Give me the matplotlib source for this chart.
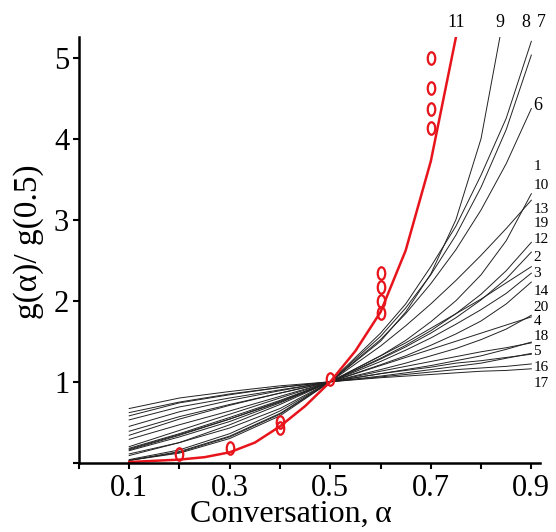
import matplotlib
matplotlib.use('Agg')
import matplotlib.pyplot as plt
from matplotlib.path import Path
from matplotlib.transforms import Affine2D

plt.rcParams['font.family'] = ['Liberation Serif', 'DejaVu Serif']

# conversion grid for the model curves (finer where they bend up)
alpha = [0.1, 0.2, 0.3, 0.4, 0.5, 0.6, 0.65, 0.7, 0.75, 0.8, 0.85, 0.9]

# g(a)/g(0.5), one list per black curve
p_quarter = [0.67, 0.80, 0.88, 0.95, 1, 1.05, 1.07, 1.09, 1.11, 1.13, 1.14, 1.16]
p_third = [0.58, 0.74, 0.84, 0.93, 1, 1.06, 1.09, 1.12, 1.15, 1.17, 1.19, 1.22]
p_half = [0.45, 0.63, 0.77, 0.89, 1, 1.10, 1.14, 1.18, 1.23, 1.26, 1.30, 1.34]
p_two_thirds = [0.34, 0.54, 0.71, 0.86, 1, 1.13, 1.19, 1.25, 1.31, 1.37, 1.42, 1.48]
p_one = [0.20, 0.40, 0.60, 0.80, 1, 1.20, 1.30, 1.40, 1.50, 1.60, 1.70, 1.80]
p_three_halves = [0.09, 0.25, 0.47, 0.72, 1, 1.32, 1.48, 1.66, 1.84, 2.02, 2.22, 2.42]
a4 = [0.62, 0.75, 0.85, 0.93, 1, 1.07, 1.11, 1.15, 1.19, 1.23, 1.29, 1.35]
a3 = [0.53, 0.69, 0.80, 0.90, 1, 1.10, 1.15, 1.20, 1.26, 1.32, 1.40, 1.49]
a2 = [0.39, 0.57, 0.72, 0.86, 1, 1.15, 1.23, 1.32, 1.41, 1.52, 1.65, 1.82]
a15 = [0.29, 0.47, 0.64, 0.82, 1, 1.21, 1.32, 1.45, 1.59, 1.75, 1.96, 2.23]
f1 = [0.15, 0.32, 0.51, 0.74, 1, 1.32, 1.51, 1.74, 2.00, 2.32, 2.74, 3.32]
r2 = [0.18, 0.36, 0.56, 0.77, 1, 1.25, 1.39, 1.54, 1.71, 1.89, 2.09, 2.34]
r3 = [0.17, 0.35, 0.54, 0.76, 1, 1.28, 1.43, 1.60, 1.79, 2.01, 2.27, 2.60]
r4 = [0.16, 0.34, 0.54, 0.75, 1, 1.29, 1.45, 1.63, 1.84, 2.08, 2.37, 2.72]
d1 = [0.04, 0.16, 0.36, 0.64, 1, 1.44, 1.69, 1.96, 2.25, 2.56, 2.89, 3.24]
d2 = [0.03, 0.14, 0.33, 0.61, 1, 1.52, 1.84, 2.21, 2.63, 3.12, 3.69, 4.37]
d4 = [0.03, 0.13, 0.32, 0.60, 1, 1.56, 1.91, 2.32, 2.81, 3.40, 4.11, 5.03]
d8 = [0.03, 0.12, 0.30, 0.58, 1, 1.60, 1.96, 2.42, 2.92, 3.55, 4.25, 5.20]

alpha_f2 = [0.1, 0.2, 0.3, 0.4, 0.5, 0.6, 0.65, 0.7, 0.75, 0.8, 0.85]
f2 = [0.11, 0.25, 0.43, 0.67, 1, 1.5, 1.86, 2.33, 3.0, 4.0, 5.67]

# red curve (11) and the experimental points
alpha_red = [0.1, 0.2, 0.25, 0.3, 0.35, 0.4, 0.45, 0.5, 0.55, 0.6, 0.65, 0.7, 0.75]
g_red = [0.01, 0.04, 0.07, 0.13, 0.25, 0.45, 0.70, 1.0, 1.38, 1.86, 2.62, 3.72, 5.25]
obs_alpha = [0.2, 0.3, 0.4, 0.4, 0.5, 0.6, 0.6, 0.6, 0.6, 0.7, 0.7, 0.7, 0.7]
obs_g = [0.11, 0.18, 0.50, 0.43, 1.03, 2.34, 2.17, 2.0, 1.85, 5.0, 4.62, 4.37, 4.13]

# curve numbers as printed round the plot
right_labels = ['1', '10', '13', '19', '12', '2', '3', '14', '20', '4', '18', '5', '16', '17']
right_label_y = [3.65, 3.42, 3.13, 2.95, 2.75, 2.53, 2.33, 2.11, 1.92, 1.74, 1.56, 1.37, 1.17, 0.98]
top_labels = ['11', '9', '8', '7', '6']
top_label_x = [0.751, 0.837, 0.890, 0.920, 0.912]
top_label_y = [5.43, 5.43, 5.43, 5.43, 4.41]

black = [p_quarter, p_third, p_half, p_two_thirds, p_one, p_three_halves,
         a4, a3, a2, a15, f1, r2, r3, r4, d1, d2, d4, d8]

fig = plt.figure(figsize=(5.56, 5.32), dpi=100)
ax = fig.add_axes([0.142, 0.13, 0.829, 0.80])

for g in black:
    ax.plot(alpha, g, color='#222222', lw=0.7)
ax.plot(alpha_f2, f2, color='#222222', lw=0.7)

ax.plot(alpha_red, g_red, color='#e8141c', lw=1.8)

ellipse = Path.unit_circle().transformed(Affine2D().scale(0.6, 1.0))
ax.plot(obs_alpha, obs_g, ls='none', marker=ellipse, ms=9, mfc='none',
        mec='#e8141c', mew=1.6, clip_on=False)

ax.set_xlim(0, 0.917)
ax.set_ylim(0, 5.25)
ax.set_xticks([0.0, 0.1, 0.2, 0.3, 0.4, 0.5, 0.6, 0.7, 0.8, 0.9])
ax.set_xticklabels(['', '0.1', '', '0.3', '', '0.5', '', '0.7', '', '0.9'])
ax.set_yticks([0, 1, 2, 3, 4, 5])
ax.set_yticklabels(['', '1', '2', '3', '4', '5'])
ax.tick_params(direction='out', length=4, width=1.5, labelsize=22, pad=3)
ax.tick_params(axis='x', pad=4)

for s in ['top', 'right']:
    ax.spines[s].set_visible(False)
for s in ['left', 'bottom']:
    ax.spines[s].set_linewidth(1.8)

ax.set_xlabel('Conversation,\u2009α', fontsize=23)
ax.xaxis.set_label_coords(0.459, -0.088)
ax.set_ylabel('g(α)/ g(0.5)', fontsize=24)
ax.yaxis.set_label_coords(-0.075, 0.52)

for lab, y in zip(right_labels, right_label_y):
    ax.text(0.904, y, lab, fontsize=11, ha='left', va='center', clip_on=False)
for lab, x, y in zip(top_labels, top_label_x, top_label_y):
    ax.text(x, y, lab, fontsize=13, ha='center', va='center', clip_on=False)

fig.savefig('out.png', dpi=100)
